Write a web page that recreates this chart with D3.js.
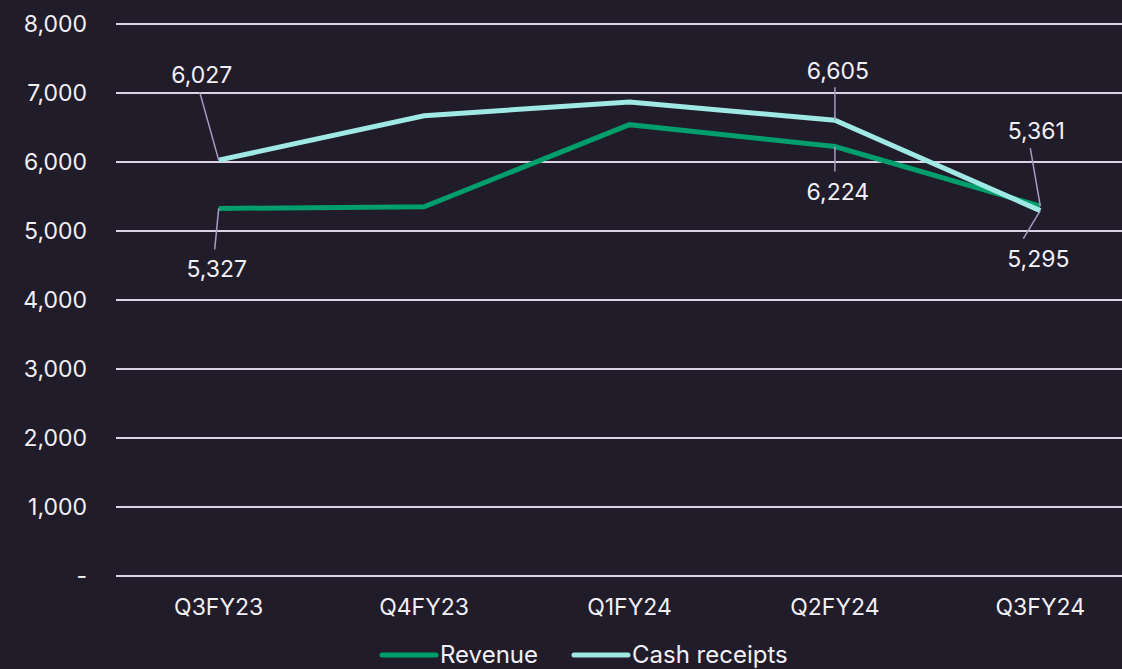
<!DOCTYPE html>
<html>
<head>
<meta charset="utf-8">
<script src="https://cdn.jsdelivr.net/npm/d3@7"></script>
<style>
  html, body { margin: 0; padding: 0; background: #211c29; overflow: hidden; }
  text { font-family: Inter, "Noto Sans", sans-serif; fill: #f2eff5; }
</style>
</head>
<body>
<script>
var quarters = ["Q3FY23", "Q4FY23", "Q1FY24", "Q2FY24", "Q3FY24"],
    revenue = [5327, 5352, 6541, 6224, 5361],
    cash = [6027, 6671, 6870, 6605, 5295],
    yTicks = [0, 1000, 2000, 3000, 4000, 5000, 6000, 7000, 8000];

// labelled points: series, index, leader end (lx, ly), text spot (tx, ty)
var callouts = [
  {s: "cash", i: 0, lx: -19, ly: -68, tx: -17, ty: -77},
  {s: "rev", i: 0, lx: -4, ly: 41, tx: -2, ty: 69},
  {s: "cash", i: 3, lx: 0, ly: -33, tx: 3, ty: -41},
  {s: "rev", i: 3, lx: 0, ly: 25, tx: 3, ty: 53},
  {s: "rev", i: 4, lx: -10, ly: -58, tx: -4, ty: -67},
  {s: "cash", i: 4, lx: -17, ly: 28, tx: -2, ty: 56}
];

var width = 1122,
    height = 669,
    mLeft = 116,
    mRight = 1143,
    mTop = 24,
    mBottom = 576,
    green = "#009e6b",
    aqua = "#9fe8e4";

var xSc = d3.scaleBand()
  .domain(quarters)
  .range([mLeft, mRight]);

var ySc = d3.scaleLinear()
  .domain([0, 8000])
  .range([mBottom, mTop]);

function cx(i) { return xSc(quarters[i]) + xSc.bandwidth() / 2; }

var svg = d3.select("body").append("svg")
  .attr("width", width)
  .attr("height", height);

// grid lines
svg.selectAll("line.grid")
  .data(yTicks)
  .enter()
    .append("line")
    .attr("x1", mLeft)
    .attr("x2", width)
    .attr("y1", function(d) { return ySc(d); })
    .attr("y2", function(d) { return ySc(d); })
    .style("stroke", "#dcd4e6")
    .style("stroke-width", 2);

// y labels
svg.selectAll("text.ylab")
  .data(yTicks)
  .enter()
    .append("text")
    .attr("x", 87)
    .attr("y", function(d) { return ySc(d) + 8; })
    .attr("text-anchor", "end")
    .style("font-size", "23px")
    .text(function(d) { return d === 0 ? "-" : d3.format(",")(d); });

// x labels
svg.selectAll("text.xlab")
  .data(quarters)
  .enter()
    .append("text")
    .attr("x", function(d, i) { return cx(i); })
    .attr("y", 615)
    .attr("text-anchor", "middle")
    .style("font-size", "23px")
    .text(function(d) { return d; });

var line = d3.line()
  .x(function(d, i) { return cx(i); })
  .y(function(d) { return ySc(d); });

svg.append("path")
  .attr("d", line(revenue))
  .style("fill", "none")
  .style("stroke", green)
  .style("stroke-width", 5);

svg.append("path")
  .attr("d", line(cash))
  .style("fill", "none")
  .style("stroke", aqua)
  .style("stroke-width", 5);

// data label callouts
var series = {rev: revenue, cash: cash};
callouts.forEach(function(c) {
  var v = series[c.s][c.i],
      px = cx(c.i),
      py = ySc(v);
  svg.append("line")
    .attr("x1", px)
    .attr("y1", py)
    .attr("x2", px + c.lx)
    .attr("y2", py + c.ly)
    .style("stroke", "#a99bc2")
    .style("stroke-width", 1.5);
  svg.append("text")
    .attr("x", px + c.tx)
    .attr("y", py + c.ty)
    .attr("text-anchor", "middle")
    .style("font-size", "23px")
    .text(d3.format(",")(v));
});

// legend
var legend = [
  {name: "Revenue", color: green, x: 380},
  {name: "Cash receipts", color: aqua, x: 572}
];
var lg = svg.selectAll("g.leg")
  .data(legend)
  .enter()
    .append("g")
    .attr("transform", function(d) { return "translate(" + d.x + ",655)"; });
lg.append("line")
  .attr("x1", 2)
  .attr("x2", 56)
  .style("stroke", function(d) { return d.color; })
  .style("stroke-width", 5)
  .style("stroke-linecap", "round");
lg.append("text")
  .attr("x", 60)
  .attr("y", 8)
  .style("font-size", "24px")
  .text(function(d) { return d.name; });
</script>
</body>
</html>
